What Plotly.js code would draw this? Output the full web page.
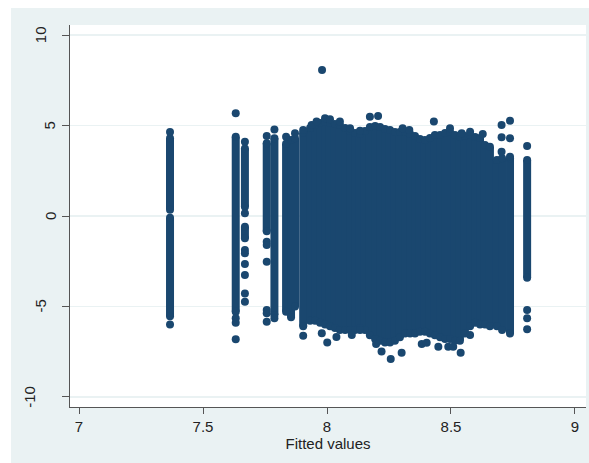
<!DOCTYPE html>
<html>
<head>
<meta charset="utf-8">
<script src="https://cdn.plot.ly/plotly-3.0.1.min.js"></script>
<style>html,body{margin:0;padding:0;background:#fff;}#chart{width:589px;height:463px;}</style>
</head>
<body>
<div id="chart"></div>
<script>
// Solid runs of overlapping points: fitted value, lowest and highest residual of the run
const runX = [7.367, 7.367, 7.632, 7.669, 7.669, 7.757, 7.788, 7.835, 7.855, 7.871, 7.904,
  7.932, 7.952, 7.972, 7.992, 8.012, 8.032, 8.052, 8.073, 8.093, 8.113, 8.133, 8.153,
  8.173, 8.194, 8.214, 8.234, 8.254, 8.274, 8.294, 8.315, 8.335, 8.355, 8.375, 8.395,
  8.415, 8.435, 8.456, 8.476, 8.496, 8.516, 8.536, 8.556, 8.577, 8.597, 8.617, 8.637,
  8.657, 8.685, 8.706, 8.738, 8.807];
const runLo = [0.35, -5.55, -5.29, 0.51, -1.23, -0.85, -5.48, -5.3, -5.6, -5.0, -6.1,
  -5.8, -5.8, -5.9, -6.0, -6.1, -6.2, -6.3, -6.3, -6.3, -6.3, -6.2, -6.3,
  -6.6, -6.8, -6.9, -7.0, -7.0, -6.9, -6.7, -6.5, -6.5, -6.5, -6.4, -6.4,
  -6.5, -6.6, -6.7, -6.8, -6.8, -6.9, -6.9, -6.5, -6.1, -5.9, -6.0, -6.0,
  -6.1, -6.1, -6.3, -6.5, -3.42];
const runHi = [4.3, -0.1, 4.39, 3.74, -0.59, 4.02, 4.3, 4.0, 4.2, 4.3, 4.6,
  4.87, 5.03, 5.14, 5.2, 5.14, 5.09, 5.03, 4.87, 4.7, 4.59, 4.54, 4.7,
  4.92, 4.98, 4.92, 4.81, 4.76, 4.65, 4.65, 4.65, 4.54, 4.42, 4.26, 4.2,
  4.31, 4.48, 4.48, 4.59, 4.65, 4.48, 4.37, 4.42, 4.48, 4.37, 4.31, 3.93,
  3.83, 3.1, 3.2, 3.2, 3.1];

// Isolated points: fitted value and residual
const dotX = [7.367, 7.367, 7.632, 7.632, 7.632, 7.632,
  7.669, 7.669, 7.669, 7.669, 7.669, 7.669, 7.669, 7.669,
  7.757, 7.757, 7.757, 7.757, 7.757, 7.757, 7.757,
  7.788, 7.788, 7.835, 7.871, 7.904, 7.904,
  7.938, 7.958, 7.992, 8.012, 8.052, 8.093, 8.133, 7.980,
  8.173, 8.206, 8.305, 8.332, 8.431, 8.496, 8.543, 8.577, 8.628,
  7.979, 8.001, 8.038, 8.100, 8.133, 8.198, 8.220, 8.257, 8.301, 8.382, 8.402,
  8.449, 8.489, 8.509, 8.539, 8.577,
  8.704, 8.704, 8.704, 8.738, 8.738, 8.738,
  8.807, 8.807, 8.807, 8.807];
const dotY = [4.65, -6.0, 5.68, -5.65, -5.9, -6.82,
  4.11, 0.15, -1.88, -2.06, -2.65, -3.26, -4.28, -4.74,
  4.42, -1.42, -1.6, -2.53, -5.2, -5.38, -5.85,
  4.79, -5.66, 4.39, 4.57, 4.76, -6.62,
  5.03, 5.22, 5.4, 5.35, 5.22, 4.85, 4.72, 8.08,
  5.49, 5.53, 4.85, 4.76, 5.22, 4.85, 4.57, 4.66, 4.54,
  -6.49, -6.99, -6.69, -6.58, -6.3, -7.08, -7.5, -7.91, -7.56, -7.08, -7.01,
  -7.23, -7.23, -7.23, -7.56, -6.58,
  3.56, 4.35, 5.03, 3.28, 4.3, 5.27,
  3.87, -5.2, -5.66, -6.27];

const xTickVals = [7, 7.5, 8, 8.5, 9];
const xTickText = ['7', '7.5', '8', '8.5', '9'];
const yTickVals = [-10, -5, 0, 5, 10];
const yTickText = ['-10', '-5', '0', '5', '10'];

const navy = '#1A476F';
const bg = '#EAF2F3';
const axisCol = '#555555';
const textCol = '#222222';
const font = 'Liberation Sans, Arial, sans-serif';

// build segment arrays for the runs
const segX = [], segY = [];
runX.forEach((x, i) => { segX.push(x, x, null); segY.push(runLo[i], runHi[i], null); });

const traces = [
  {x: segX, y: segY, type: 'scatter', mode: 'lines+markers',
   line: {color: navy, width: 8}, marker: {color: navy, size: 8, line: {width: 0}},
   connectgaps: false, hoverinfo: 'skip', showlegend: false},
  {x: dotX, y: dotY, type: 'scatter', mode: 'markers',
   marker: {color: navy, size: 8, line: {width: 0}}, showlegend: false}
];

const annotations = yTickVals.map((v, i) => ({
  xref: 'paper', x: 0, yref: 'y', y: v, text: yTickText[i], textangle: -90,
  showarrow: false, xanchor: 'center', yanchor: 'middle',
  xshift: -20 - 10 * (yTickText[i].length - 1),
  font: {family: font, size: 15, color: textCol}
}));

const layout = {
  width: 589, height: 463,
  margin: {l: 70, r: 3, t: 25, b: 56, pad: 0},
  paper_bgcolor: bg, plot_bgcolor: '#ffffff',
  font: {family: font, size: 15, color: textCol},
  showlegend: false,
  xaxis: {
    range: [6.9637, 9.0444], tickvals: xTickVals, ticktext: xTickText,
    showgrid: false, zeroline: false, showline: true, linecolor: axisCol, linewidth: 1,
    ticks: 'outside', ticklen: 6, tickcolor: axisCol, tickwidth: 1,
    tickfont: {family: font, size: 15, color: textCol},
    title: {text: 'Fitted values', font: {family: font, size: 15, color: textCol}, standoff: 1},
    automargin: false
  },
  yaxis: {
    range: [-10.564, 10.564], tickvals: yTickVals, showticklabels: false,
    showgrid: true, gridcolor: bg, gridwidth: 1.5, zeroline: false,
    showline: true, linecolor: axisCol, linewidth: 1,
    ticks: 'outside', ticklen: 7, tickcolor: axisCol, tickwidth: 1,
    automargin: false
  },
  annotations: annotations,
  shapes: [
    {type: 'rect', xref: 'paper', yref: 'paper', x0: -0.3, x1: -0.11434, y0: -0.3, y1: 1.3,
     fillcolor: '#ffffff', line: {width: 0}, layer: 'above'},
    {type: 'rect', xref: 'paper', yref: 'paper', x0: -0.3, x1: 1.3, y0: 1.0445, y1: 1.3,
     fillcolor: '#ffffff', line: {width: 0}, layer: 'above'}
  ]
};

Plotly.newPlot('chart', traces, layout, {staticPlot: true, displayModeBar: false});
</script>
</body>
</html>
